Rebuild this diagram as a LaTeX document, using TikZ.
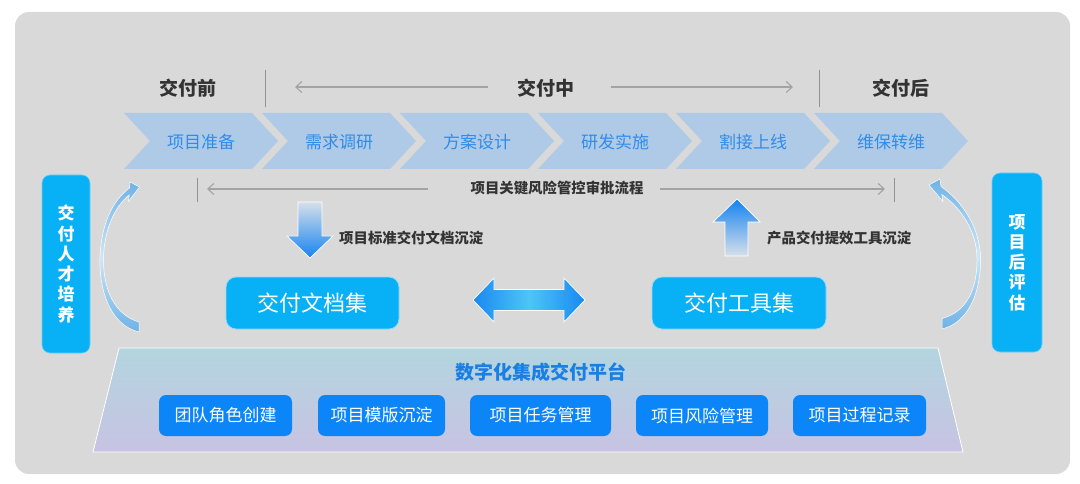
\documentclass[tikz,border=0pt]{standalone}
\usepackage{fontspec}
\setmainfont{Noto Sans CJK SC}
\usetikzlibrary{arrows.meta}
\definecolor{panel}{HTML}{D9D9D9}
\definecolor{hdtext}{HTML}{333333}
\definecolor{chevfill}{HTML}{AECAE7}
\definecolor{chevtext}{HTML}{2F8CEB}
\definecolor{cyanbox}{HTML}{08B0F5}
\definecolor{bluebox}{HTML}{0B85F8}
\definecolor{titleblue}{HTML}{1A7FE5}
\definecolor{platTop}{HTML}{B3D5DF}
\definecolor{platBot}{HTML}{C7C3E3}
\definecolor{guide}{HTML}{A3A3A3}
\definecolor{arrDeep}{HTML}{1583F0}
\definecolor{arrPale}{HTML}{D6E0EA}
\definecolor{dblEnd}{HTML}{1A88F2}
\definecolor{dblMid}{HTML}{4CC6F6}
\definecolor{curveA}{HTML}{6FB2E6}
\definecolor{curveB}{HTML}{CDE6F6}
\begin{document}
\begin{tikzpicture}[x=1pt,y=-1pt,
  phase/.style={font=\fontsize{19}{22}\selectfont\bfseries, text=hdtext, inner sep=0pt},
  chevlabel/.style={font=\fontsize{17}{20}\selectfont, text=chevtext, inner sep=0pt},
  chevshape/.style={fill=chevfill},
  guideline/.style={draw=guide, line width=1.1pt},
  guidearrow/.style={guideline, -{Straight Barb[length=6pt,width=11pt,line width=1.1pt]}},
  tick/.style={draw=guide!90!black, line width=1pt},
  sidebar/.style={fill=cyanbox, draw=cyanbox!60!white, line width=0.6pt, rounded corners=8pt,
    text=white, font=\fontsize{17}{20.3}\selectfont\bfseries, align=center, inner sep=0pt},
  setbox/.style={fill=cyanbox, draw=cyanbox!45!white, line width=0.8pt, rounded corners=10pt,
    text=white, font=\fontsize{22}{26}\selectfont, minimum width=173pt, minimum height=52pt, inner sep=0pt},
  featbox/.style={fill=bluebox, rounded corners=7pt, text=white,
    font=\fontsize{17}{20}\selectfont, minimum height=41pt, inner sep=0pt},
  smalllabel/.style={font=\fontsize{14.4}{17}\selectfont\bfseries, text=hdtext, inner sep=0pt},
  curvearrow/.style={top color=curveA, bottom color=curveA, middle color=curveB, draw=white, line width=0.5pt},
]
\useasboundingbox (0,0) rectangle (1080,484);
\fill[white] (0,0) rectangle (1080,484);
\fill[panel, rounded corners=14pt] (15,12) rectangle (1070,474);

% ---------- header ----------
\node[phase] (pre) at (188,88) {交付前};
\node[phase] (mid) at (545.5,88) {交付中};
\node[phase] (post) at (901,88) {交付后};
\coordinate (lineA1) at (265,70); \coordinate (lineA2) at (265,107);
\coordinate (lineB1) at (819,70); \coordinate (lineB2) at (819,107);
\draw[tick] (lineA1) -- (lineA2);
\draw[tick] (lineB1) -- (lineB2);
\coordinate (hdL) at (295,87); \coordinate (hdR) at (793,87);
\draw[guidearrow] ([xshift=-29pt]mid.west |- hdL) -- (hdL);
\draw[guidearrow] ([xshift=37pt]mid.east |- hdR) -- (hdR);

% ---------- chevrons ----------
\foreach \x/\t [count=\i] in {124/项目准备,262/需求调研,400/方案设计,538/研发实施,676/割接上线,814/维保转维}{
  \fill[chevshape] (\x,113) -- (\x+128,113) -- (\x+154,141) -- (\x+128,169) -- (\x,169) -- (\x+26,141) -- cycle;
  \node[chevlabel] (chev\i) at (\x+77,142) {\t};
}

% ---------- risk line ----------
\node[smalllabel] (risk) at (557,188) {项目关键风险管控审批流程};
\coordinate (tkL1) at (197,178); \coordinate (tkL2) at (197,202);
\coordinate (tkR1) at (894,178); \coordinate (tkR2) at (894,202);
\draw[tick] (tkL1) -- (tkL2);
\draw[tick] (tkR1) -- (tkR2);
\coordinate (rkL) at (207,189); \coordinate (rkR) at (885,189);
\draw[guidearrow] ([xshift=-42pt]risk.west |- rkL) -- (rkL);
\draw[guidearrow] ([xshift=16pt]risk.east |- rkR) -- (rkR);

% ---------- side bars ----------
\node[sidebar, minimum width=48pt, minimum height=178pt] (talent) at (66,264) {交\\付\\人\\才\\培\\养};
\node[sidebar, minimum width=50pt, minimum height=179pt] (review) at (1017,262.5) {项\\目\\后\\评\\估};

% ---------- curved arrows ----------
\path[curvearrow] (139,332) .. controls (110,325) and (99,290) .. (100,258)
  .. controls (101,225) and (112,201) .. (129.6,188)
  -- (130,182) -- (139.5,187) -- (128.5,201.5) -- (129.2,195)
  .. controls (115,206) and (104,230) .. (103.5,258)
  .. controls (103,290) and (115,315) .. (139,322) -- cycle;
\path[curvearrow] (942,329) .. controls (970,322) and (981,290) .. (980.5,258)
  .. controls (980,228) and (963,202) .. (941,186.5)
  -- (940,179) -- (929,185) -- (943,201.5) -- (941.8,194.5)
  .. controls (960,207) and (976.5,230) .. (977,258)
  .. controls (977.5,290) and (966,312) .. (942,318.5) -- cycle;

% ---------- down / up arrows ----------
\path[top color=arrPale, bottom color=arrDeep, draw=white, line width=0.7pt]
  (298,202) -- (322,202) -- (322,236) -- (333,236) -- (310,258) -- (287,236) -- (298,236) -- cycle;
\path[top color=arrDeep, bottom color=arrPale, draw=white, line width=0.7pt]
  (725,256) -- (748,256) -- (748,222) -- (760,222) -- (737,199) -- (713,222) -- (725,222) -- cycle;
\node[smalllabel, anchor=west] (docdep) at (339,238) {项目标准交付文档沉淀};
\node[smalllabel, anchor=west] (tooldep) at (767,238) {产品交付提效工具沉淀};

% ---------- document / tool sets ----------
\node[setbox] (docs) at (312.5,303) {交付文档集};
\node[setbox, minimum width=174pt] (tools) at (739,303) {交付工具集};
\path[left color=dblEnd, right color=dblEnd, middle color=dblMid, draw=white, line width=0.7pt]
  (473,300) -- (494,278) -- (494,289.5) -- (564,289.5) -- (564,278) -- (585,300)
  -- (564,322) -- (564,310.5) -- (494,310.5) -- (494,322) -- cycle;

% ---------- platform ----------
\path[top color=platTop, bottom color=platBot, draw=white, line width=0.8pt]
  (119,348) -- (938,348) -- (963,452) -- (93,452) -- cycle;
\node[font=\fontsize{19}{22}\selectfont\bfseries, text=titleblue, inner sep=0pt] (ptitle) at (541,372) {数字化集成交付平台};
\node[featbox, minimum width=133pt] (f1) at (225.5,415.5) {团队角色创建};
\node[featbox, minimum width=127pt] (f2) at (381.5,415.5) {项目模版沉淀};
\node[featbox, minimum width=141pt] (f3) at (540.5,415.5) {项目任务管理};
\node[featbox, minimum width=132pt] (f4) at (702,415.5) {项目风险管理};
\node[featbox, minimum width=133pt] (f5) at (859.5,415.5) {项目过程记录};
\end{tikzpicture}
\end{document}
